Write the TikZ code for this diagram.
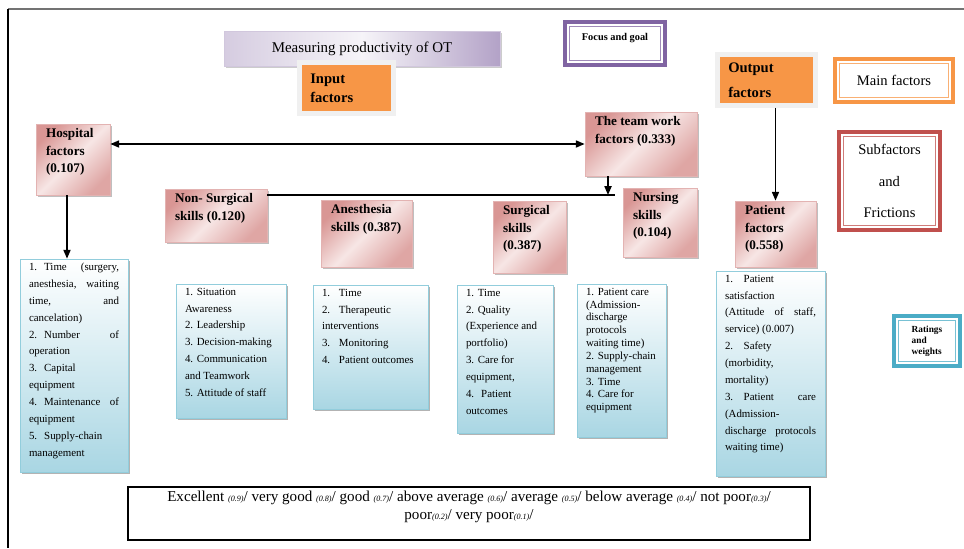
\documentclass[tikz,border=0pt]{standalone}
\usepackage{fontspec}
\setmainfont{Liberation Serif}
\usepackage{tikz}
\usetikzlibrary{arrows.meta, positioning, shadows}

\definecolor{pinkdark}{HTML}{D99694}
\definecolor{pinklight}{HTML}{F7E6E5}
\definecolor{pinkedge}{HTML}{E3B3B2}
\definecolor{listblue}{HTML}{A9D6E3}
\definecolor{listedge}{HTML}{92CDDC}
\definecolor{lavender}{HTML}{B3A2C7}
\definecolor{factorange}{HTML}{F79646}
\definecolor{focuspurple}{HTML}{8064A2}
\definecolor{subred}{HTML}{C0504D}
\definecolor{rateteal}{HTML}{4BACC6}

\newcommand{\scorewt}[1]{{\fontsize{4.6}{5}\selectfont\itshape #1}}

\begin{document}
\begin{tikzpicture}[x=0.02cm, y=-0.02cm,
    headbox/.style={draw=pinkedge, left color=pinkdark, right color=pinkdark!85, middle color=pinklight, shading angle=45,
      drop shadow={shadow xshift=1.3pt, shadow yshift=-1.3pt, opacity=0.5},
      inner xsep=0.2cm, inner ysep=0.08cm, font=\bfseries\fontsize{7.5}{10.2}\selectfont},
    listbox/.style={draw=listedge, top color=white, bottom color=listblue,
      drop shadow={shadow xshift=1.3pt, shadow yshift=-1.3pt, opacity=0.6},
      inner xsep=0.18cm, inner ysep=0.08cm, font=\fontsize{6.2}{9.6}\selectfont},
    factorbox/.style={draw=black!6, line width=3pt, fill=factorange,
      drop shadow={shadow xshift=1pt, shadow yshift=-1pt, opacity=0.35},
      align=left, inner xsep=0.21cm, font=\bfseries\fontsize{8.3}{10.8}\selectfont},
    keybox/.style={draw=#1, line width=2.2pt, fill=white,
      path picture={\draw[#1!75, line width=0.8pt] ([shift={(2.7pt,-2.7pt)}]path picture bounding box.north west) rectangle ([shift={(-2.7pt,2.7pt)}]path picture bounding box.south east);}},
    titlebox/.style={draw=lavender!60, left color=lavender!55, right color=lavender, middle color=lavender!12,
      drop shadow={shadow xshift=1pt, shadow yshift=-1.3pt, opacity=0.4},
      font=\fontsize{8.5}{10}\selectfont},
    link/.style={line width=0.9pt, -{Triangle[length=5pt, width=4pt]}},
    both/.style={line width=0.9pt, {Triangle[length=5pt, width=4pt]}-{Triangle[length=5pt, width=4pt]}},
  ]
  \useasboundingbox (0,0) rectangle (964,548);
  \draw[black!55, line width=1pt] (8,9) -- (964,9);
  \draw[line width=0.6pt] (8,9) -- (8,548);

  % goal and the two factor groups
  \node[titlebox, minimum width=5.52cm, minimum height=0.70cm] (title) at (362,48.5) {Measuring productivity of OT};
  \node[factorbox, text width=1.45cm, minimum height=1.01cm] (input) at (346.5,88) {Input\\factors};
  \node[factorbox, text width=1.53cm, minimum height=1.01cm, font=\bfseries\fontsize{8.3}{14.2}\selectfont] (output) at (766.5,80) {Output\\factors};

  % legend
  \node[keybox=focuspurple, minimum width=2.00cm, minimum height=0.86cm, text depth=7.6pt, font=\bfseries\fontsize{5.9}{7}\selectfont] (focus) at (615,43.5) {Focus and goal};
  \node[keybox=factorange, minimum width=2.36cm, minimum height=0.86cm, font=\fontsize{8.3}{10}\selectfont] (mainkey) at (894,80.5) {Main factors};
  \node[keybox=subred, minimum width=2.02cm, minimum height=1.96cm, align=center, font=\fontsize{8.3}{18}\selectfont] (subkey) at (889.5,181) {Subfactors\\and\\Frictions};
  \node[keybox=rateteal, minimum width=1.32cm, minimum height=1.00cm, align=left, font=\bfseries\fontsize{5.3}{6.2}\selectfont] (ratekey) at (927,341) {Ratings\\and\\weights};

  % main factors and skills
  \node[headbox] (hospital) at (73,159.5) {\parbox[c][1.26cm][t]{1.08cm}{Hospital\\factors\\(0.107)}};
  \node[headbox] (team) at (641,144) {\parbox[c][1.12cm][t]{1.84cm}{The team work\\factors (0.333)}};
  \node[headbox] (nonsurg) at (216,215.5) {\parbox[c][0.90cm][t]{1.64cm}{Non- Surgical\\skills (0.120)}};
  \node[headbox] (anes) at (366.5,233.5) {\parbox[c][1.18cm][t]{1.42cm}{Anesthesia\\skills (0.387)}};
  \node[headbox] (surg) at (529.5,237) {\parbox[c][1.28cm][t]{1.06cm}{Surgical\\skills\\(0.387)}};
  \node[headbox] (nursing) at (660,222.5) {\parbox[c][1.22cm][t]{1.08cm}{Nursing\\skills\\(0.104)}};
  \node[headbox] (patient) at (775.5,234) {\parbox[c][1.16cm][t]{1.22cm}{Patient\\factors\\(0.558)}};

  % subfactors
  \node[listbox] (hlist) at (74,365.5) {\parbox[c][4.10cm][t]{1.80cm}{%
    1.\hspace{4pt}Time\hfill(surgery,\\anesthesia,\hfill waiting\\time,\hfill and\\cancelation)\\
    2.\hspace{4pt}Number\hfill of\\operation\\3.\hspace{4pt}Capital\\equipment\\
    4.\hspace{4pt}Maintenance\hfill of\\equipment\\5.\hspace{4pt}Supply-chain\\management}};
  \node[listbox] (nlist) at (231,351) {\parbox[c][2.52cm][t]{1.84cm}{%
    1. Situation\\Awareness\\2. Leadership\\3. Decision-making\\4. Communication\\and Teamwork\\5. Attitude of staff}};
  \node[listbox] (alist) at (370.5,347) {\parbox[c][2.32cm][t]{1.94cm}{%
    1.\hspace{5pt}Time\\2.\hspace{5pt}Therapeutic\\interventions\\3.\hspace{5pt}Monitoring\\4.\hspace{5pt}Patient outcomes}};
  \node[listbox] (slist) at (505,359) {\parbox[c][2.80cm][t]{1.56cm}{%
    1. Time\\2. Quality\\(Experience and\\portfolio)\\3. Care for\\equipment,\\4.\hspace{4pt}Patient\\outcomes}};
  \node[listbox, font=\fontsize{6.2}{7.3}\selectfont] (urlist) at (621.5,360.5) {\parbox[c][2.90cm][t]{1.42cm}{%
    1. Patient care\\(Admission-\\discharge\\protocols\\waiting time)\\2. Supply-chain\\management\\3. Time\\4. Care for\\equipment}};
  \node[listbox] (plist) at (770.5,373.5) {\parbox[c][3.94cm][t]{1.82cm}{%
    1.\hspace{6pt}Patient\\satisfaction\\(Attitude\hfill of\hfill staff,\\service) (0.007)\\
    2.\hspace{6pt}Safety\\(morbidity,\\mortality)\\3.\hspace{6pt}Patient\hfill care\\
    (Admission-\\discharge\hfill protocols\\waiting time)}};

  % rating scale
  \node[draw, line width=0.8pt, fill=white, inner xsep=0.12cm, inner ysep=0.08cm, font=\fontsize{8.6}{10}\selectfont] (scale) at (469,513.5) {\parbox[c][0.90cm][t]{13.4cm}{\centering
    Excellent \scorewt{(0.9)}/ very good \scorewt{(0.8)}/ good \scorewt{(0.7)}/ above average \scorewt{(0.6)}/ average \scorewt{(0.5)}/ below average \scorewt{(0.4)}/ not poor\scorewt{(0.3)}/\\
    poor\scorewt{(0.2)}/ very poor\scorewt{(0.1)}/}};

  % connectors
  \coordinate (junction) at (615,195);
  \coordinate (hfoot) at ([xshift=-0.12cm]hospital.south);
  \coordinate (tfoot) at ([xshift=-0.66cm]team.south);
  \draw[both] (hospital.east |- team.west) -- (team.west);
  \draw[link] (hfoot) -- (hfoot |- hlist.north);
  \draw[line width=0.7pt] (nonsurg.east |- junction) -- (junction);
  \draw[link] (tfoot) -- (tfoot |- junction);
  \draw[link] (patient.north |- output.south) -- (patient.north);
\end{tikzpicture}
\end{document}
